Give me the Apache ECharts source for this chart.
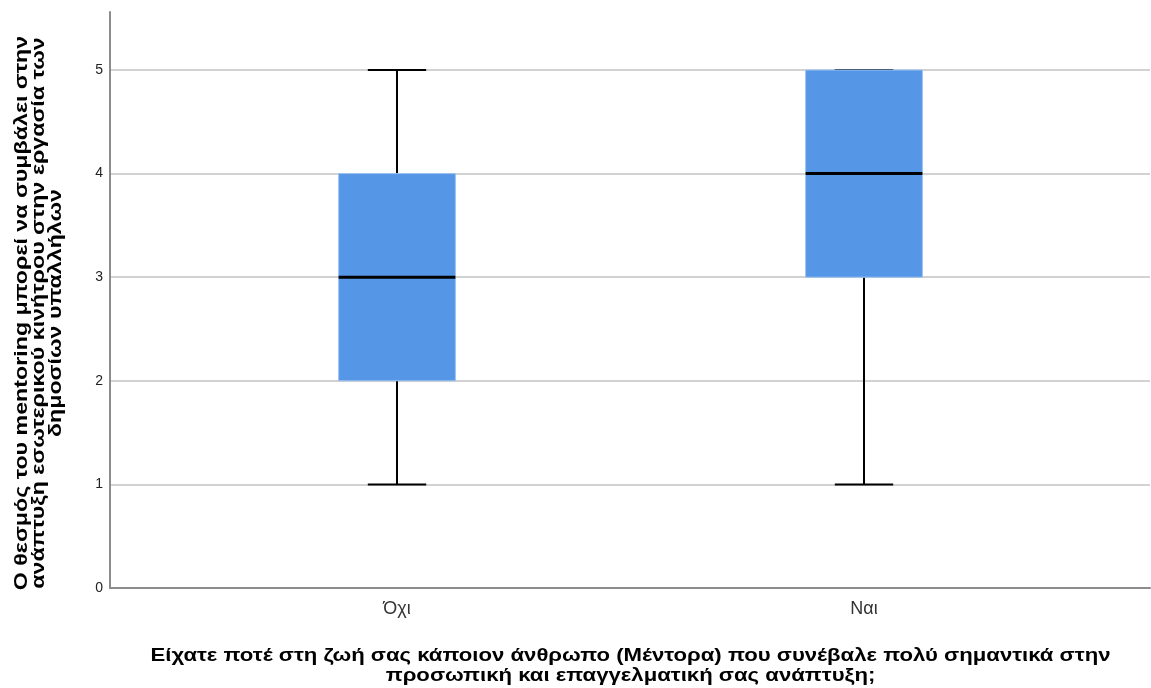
<!DOCTYPE html>
<html>
<head>
<meta charset="utf-8">
<script src="https://cdn.jsdelivr.net/npm/echarts@6/dist/echarts.min.js"></script>
<style>
html,body{margin:0;padding:0;background:#fff;}
#chart{width:1151px;height:688px;}
</style>
</head>
<body>
<div id="chart"></div>
<script>
// ---- data ----
const categories = ['Όχι', 'Ναι'];
const whiskerLow  = [1, 1];
const q1          = [2, 3];
const median      = [3, 4];
const q3          = [4, 5];
const whiskerHigh = [5, 5];
const yTicks = [0, 1, 2, 3, 4, 5];
const yTitle = 'Ο θεσμός του mentoring μπορεί να συμβάλει στην\nανάπτυξη εσωτερικού κινήτρου στην εργασία των\nδημοσίων υπαλλήλων';
const xTitle = 'Είχατε ποτέ στη ζωή σας κάποιον άνθρωπο (Μέντορα) που συνέβαλε πολύ σημαντικά στην\nπροσωπική και επαγγελματική σας ανάπτυξη;';

const FONT = "'Liberation Sans', Arial, sans-serif";
const boxData = categories.map((c, i) => [i, whiskerLow[i], q1[i], median[i], q3[i], whiskerHigh[i]]);

const chart = echarts.init(document.getElementById('chart'), null, {renderer: 'canvas'});

const Y_MAX = 5.56;

function renderBox(params, api) {
  const idx = api.value(0);
  const band = api.size([1, 0])[0];
  const bw = band * 0.25;
  const cw = bw / 2;
  const pLow = api.coord([idx, api.value(1)]);
  const pQ1 = api.coord([idx, api.value(2)]);
  const pMed = api.coord([idx, api.value(3)]);
  const pQ3 = api.coord([idx, api.value(4)]);
  const pHigh = api.coord([idx, api.value(5)]);
  const x = pMed[0];
  const lineStyle = {stroke: '#000', lineWidth: 2};
  return {
    type: 'group',
    children: [
      {type: 'line', shape: {x1: x, y1: pLow[1], x2: x, y2: pQ1[1]}, style: lineStyle},
      {type: 'line', shape: {x1: x, y1: pQ3[1], x2: x, y2: pHigh[1]}, style: lineStyle},
      {type: 'line', shape: {x1: x - cw / 2, y1: pLow[1], x2: x + cw / 2, y2: pLow[1]}, style: lineStyle},
      {type: 'line', shape: {x1: x - cw / 2, y1: pHigh[1], x2: x + cw / 2, y2: pHigh[1]}, style: lineStyle},
      {type: 'rect', shape: {x: x - bw / 2, y: pQ3[1], width: bw, height: pQ1[1] - pQ3[1]},
        style: {fill: '#5596e6', stroke: '#9cc2f0', lineWidth: 1}},
      {type: 'line', shape: {x1: x - bw / 2, y1: pMed[1], x2: x + bw / 2, y2: pMed[1]}, style: {stroke: '#000', lineWidth: 3}}
    ]
  };
}

const option = {
  backgroundColor: '#fff',
  animation: false,
  grid: [
    {left: 110, right: 1, top: 12, bottom: 100, containLabel: false, outerBoundsMode: 'none'},
    {left: 163.5, right: 53.5, top: 12, bottom: 100, containLabel: false, outerBoundsMode: 'none'}
  ],
  graphic: [
    {
      type: 'text', x: 630.5, y: 666, scaleX: 1.23, scaleY: 1,
      style: {text: xTitle, fill: '#000', font: "bold 18px 'Liberation Sans', Arial, sans-serif",
        lineHeight: 20, align: 'center', verticalAlign: 'middle'}
    },
    {
      type: 'text', x: 39, y: 313, rotation: Math.PI / 2, scaleX: 1.29, scaleY: 1,
      style: {text: yTitle, fill: '#000', font: "bold 18px 'Liberation Sans', Arial, sans-serif",
        lineHeight: 17, align: 'center', verticalAlign: 'middle'}
    }
  ],
  xAxis: [
    {
      gridIndex: 0, type: 'value', min: 0, max: 1,
      axisLine: {show: true, lineStyle: {color: '#8c8c8c', width: 2}},
      axisTick: {show: false}, axisLabel: {show: false}, splitLine: {show: false}
    },
    {
      gridIndex: 1, type: 'category', data: categories,
      axisLine: {show: false}, axisTick: {show: false},
      axisLabel: {color: '#333', fontSize: 18, fontFamily: FONT, margin: 12}
    }
  ],
  yAxis: [
    {
      gridIndex: 0, type: 'value', min: 0, max: Y_MAX, interval: 1,
      axisLine: {show: true, lineStyle: {color: '#8c8c8c', width: 2}},
      axisTick: {show: false},
      axisLabel: {
        color: '#222', fontSize: 14, fontFamily: FONT, margin: 7, showMaxLabel: false,
        formatter: v => (yTicks.indexOf(v) >= 0 ? String(v) : '')
      },
      splitLine: {show: true, showMaxLine: false, showMinLine: false, lineStyle: {color: '#d2d2d2', width: 2}}
    },
    {
      gridIndex: 1, type: 'value', min: 0, max: Y_MAX, interval: 1, show: false
    }
  ],
  series: [
    {
      type: 'custom', xAxisIndex: 1, yAxisIndex: 1,
      renderItem: renderBox,
      encode: {x: 0, y: [1, 2, 3, 4, 5]},
      data: boxData
    }
  ]
};
chart.setOption(option);
</script>
</body>
</html>
